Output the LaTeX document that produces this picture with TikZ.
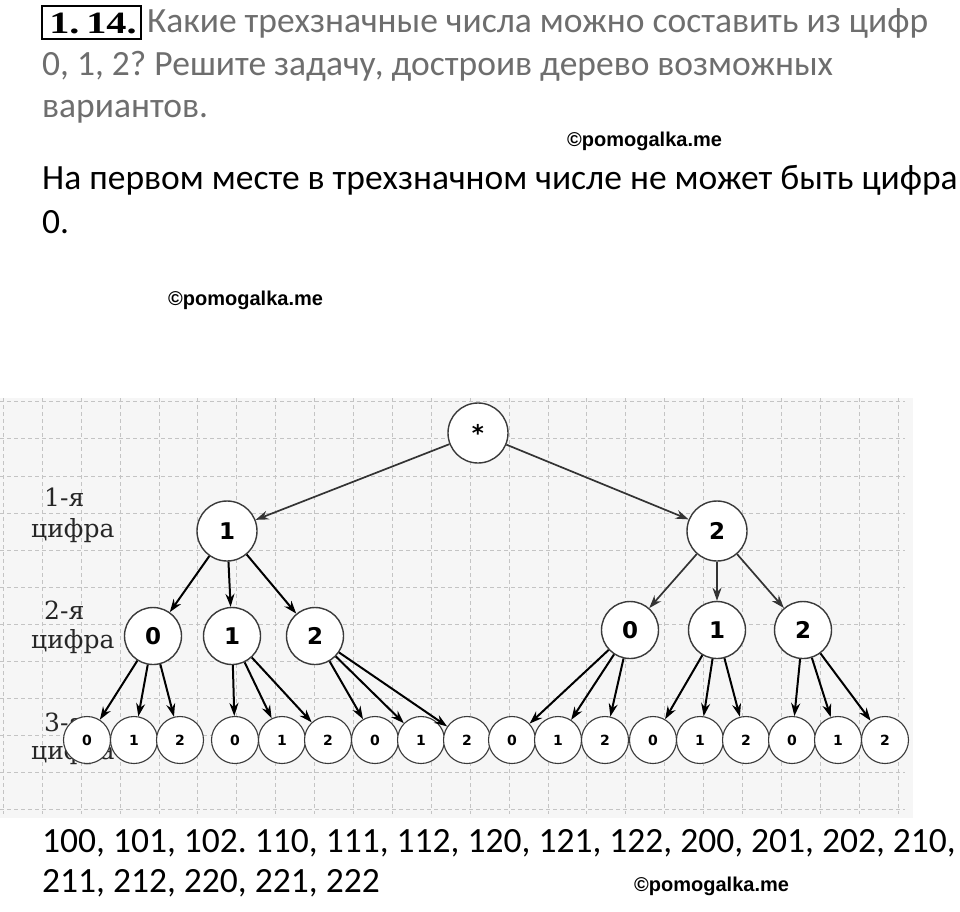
\documentclass[tikz,border=0pt]{standalone}
\usepackage{fontspec}
\setmainfont{Carlito}
\newfontfamily\wmfont{Liberation Sans}
\newfontfamily\lblfont{DejaVu Serif}
\newfontfamily\digfont{DejaVu Sans}
\newfontfamily\numfont{Liberation Serif}
\usetikzlibrary{arrows.meta}
\frenchspacing
\definecolor{bggray}{HTML}{F6F6F6}
\definecolor{gridc}{HTML}{C4C4C4}
\definecolor{qgray}{HTML}{6E6E6E}
\definecolor{circc}{HTML}{3A3A3A}
\tikzset{
  txt/.style={anchor=base west, inner sep=0pt, font=\fontsize{35.5}{40}\selectfont},
  qtxt/.style={txt, text=qgray},
  wm/.style={anchor=base west, inner sep=0pt, font=\wmfont\bfseries\fontsize{20}{24}\selectfont},
  lbl/.style={anchor=base west, inner sep=0pt, text=black!85, font=\lblfont\fontsize{25}{28}\selectfont},
  gridline/.style={draw=gridc, line width=0.8pt, dash pattern=on 4pt off 3pt},
  bignode/.style={circle, draw=circc, line width=1.4pt, fill=white, inner sep=0pt, minimum size=60pt, font=\digfont\bfseries\fontsize{23}{26}\selectfont},
  midnode/.style={bignode, minimum size=57pt},
  leafnode/.style={circle, draw=circc, line width=1.1pt, fill=white, inner sep=0pt, minimum size=47pt, font=\digfont\bfseries\fontsize{14}{16}\selectfont},
  conn/.style={draw=black, line width=2pt, -{Stealth[length=13pt,width=9pt]}},
  connthin/.style={draw=black!80, line width=1.7pt, -{Stealth[length=13pt,width=9pt]}},
}
\begin{document}
\begin{tikzpicture}[x=1pt,y=-1pt]
\useasboundingbox (0,0) rectangle (960,911);
\fill[white] (0,0) rectangle (960,911);
% question
\node[draw=black, line width=1.8pt, inner sep=0pt, minimum width=99pt, minimum height=33pt] (box) at (91.5,22.5) {};
\node[anchor=base, inner sep=0pt, font=\numfont\bfseries\fontsize{31}{36}\selectfont] (num) at (93,33) {\scalebox{1.3}[1]{1.\,14.}};
\node[qtxt] (q1) at (147,32) {Какие трехзначные числа можно составить из цифр};
\node[qtxt] (q2) at (42,75) {0, 1, 2? Решите задачу, достроив дерево возможных};
\node[qtxt] (q3) at (42,117) {вариантов.};
\node[wm] (wm1) at (567,146) {©pomogalka.me};
\node[txt] (t1) at (42,189) {На первом месте в трехзначном числе не может быть цифра};
\node[txt] (t2) at (42,233) {0.};
\node[wm] (wm2) at (168,305) {©pomogalka.me};
% diagram background
\fill[bggray] (0,398) rectangle (913,818);
\foreach \k in {0,...,11} \draw[gridline] (0,{401.7+37.1*\k}) -- (905,{401.7+37.1*\k});
\foreach \k in {0,...,23} \draw[gridline] ({3.3+38.9*\k},398) -- ({3.3+38.9*\k},814);
% labels
\node[lbl] (l1a) at (44,506) {1-я};
\node[lbl] (l1b) at (31,537) {цифра};
\node[lbl] (l2a) at (44,619) {2-я};
\node[lbl] (l2b) at (31,648) {цифра};
\node[lbl] (l3a) at (44,731) {3-я};
\node[lbl] (l3b) at (31,759) {цифра};
% nodes
\node[bignode] (root) at (478,433) {\raisebox{-5pt}{*}};
\node[bignode] (a) at (227,531) {1};
\node[bignode] (b) at (717,531) {2};
\node[midnode] (a0) at (153,636) {0};
\node[midnode] (a1) at (232,636) {1};
\node[midnode] (a2) at (315,636) {2};
\node[midnode] (b0) at (630,630) {0};
\node[midnode] (b1) at (717,630) {1};
\node[midnode] (b2) at (803,630) {2};
\foreach \n/\x/\d in {1/87/0,2/134/1,3/180/2,4/235/0,5/282/1,6/328/2,7/375/0,8/421/1,9/467/2,10/512/0,11/558/1,12/605/2,13/653/0,14/700/1,15/746/2,16/792/0,17/838/1,18/885/2}
  \node[leafnode] (c\n) at (\x,740) {\d};
% connectors
\draw[connthin] (root) -- (a);
\draw[connthin] (root) -- (b);
\draw[conn] (a) -- (a0);
\draw[conn] (a) -- (a1);
\draw[conn] (a) -- (a2);
\draw[connthin] (b) -- (b0);
\draw[connthin] (b) -- (b1);
\draw[connthin] (b) -- (b2);
\draw[conn] (a0) -- (c1);
\draw[conn] (a0) -- (c2);
\draw[conn] (a0) -- (c3);
\draw[conn] (a1) -- (c4);
\draw[conn] (a1) -- (c5);
\draw[conn] (a1) -- (c6);
\draw[conn] (a2) -- (c7);
\draw[conn] (a2) -- (c8);
\draw[conn] (a2) -- (c9);
\draw[conn] (b0) -- (c10);
\draw[conn] (b0) -- (c11);
\draw[conn] (b0) -- (c12);
\draw[conn] (b1) -- (c13);
\draw[conn] (b1) -- (c14);
\draw[conn] (b1) -- (c15);
\draw[conn] (b2) -- (c16);
\draw[conn] (b2) -- (c17);
\draw[conn] (b2) -- (c18);
% answer
\node[txt] (r1) at (42,852) {100, 101, 102. 110, 111, 112, 120, 121, 122, 200, 201, 202, 210,};
\node[txt] (r2) at (42,892) {211, 212, 220, 221, 222};
\node[wm] (wm3) at (634,891) {©pomogalka.me};
\end{tikzpicture}
\end{document}
